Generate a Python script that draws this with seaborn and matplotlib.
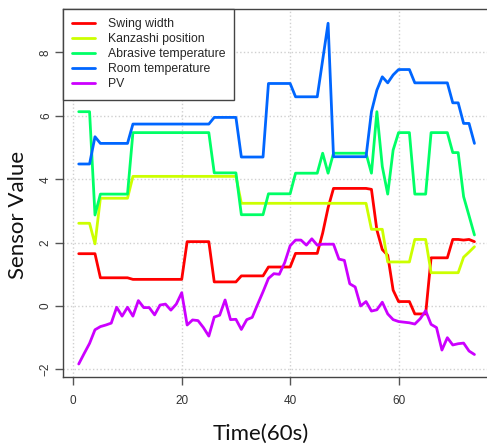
import numpy as np
import pandas as pd
import matplotlib
matplotlib.use("Agg")
from matplotlib import pyplot as plt
import seaborn as sns

# time steps (one every 60 s)
time = list(range(1, 75))

swing_width = [
    1.65, 1.65, 1.65, 1.65, 0.89, 0.89, 0.89, 0.89, 0.89, 0.89,
    0.84, 0.84, 0.84, 0.84, 0.84, 0.84, 0.84, 0.84, 0.84, 0.84,
    2.03, 2.03, 2.03, 2.03, 2.03, 0.76, 0.76, 0.76, 0.76, 0.76,
    0.95, 0.95, 0.95, 0.95, 0.95, 1.23, 1.23, 1.23, 1.23, 1.23,
    1.66, 1.66, 1.66, 1.66, 1.66, 2.30, 3.10, 3.71, 3.71, 3.71,
    3.71, 3.71, 3.71, 3.71, 3.68, 2.40, 1.78, 1.60, 0.50, 0.14,
    0.14, 0.14, -0.25, -0.25, -0.25, 1.52, 1.52, 1.52, 1.52, 2.10,
    2.10, 2.08, 2.10, 2.03]

kanzashi = [
    2.61, 2.61, 2.61, 1.96, 3.40, 3.40, 3.40, 3.40, 3.40, 3.40,
    4.09, 4.09, 4.09, 4.09, 4.09, 4.09, 4.09, 4.09, 4.09, 4.09,
    4.09, 4.09, 4.09, 4.09, 4.09, 4.09, 4.09, 4.09, 4.09, 4.09,
    3.24, 3.24, 3.24, 3.24, 3.24, 3.24, 3.24, 3.24, 3.24, 3.24,
    3.24, 3.24, 3.24, 3.24, 3.24, 3.24, 3.24, 3.24, 3.24, 3.24,
    3.24, 3.24, 3.24, 3.24, 2.42, 2.42, 2.42, 1.39, 1.39, 1.39,
    1.39, 1.39, 2.10, 2.10, 2.10, 1.05, 1.05, 1.05, 1.05, 1.05,
    1.05, 1.54, 1.70, 1.87]

abrasive_temp = [
    6.13, 6.13, 6.13, 2.87, 3.53, 3.53, 3.53, 3.53, 3.53, 3.53,
    5.47, 5.47, 5.47, 5.47, 5.47, 5.47, 5.47, 5.47, 5.47, 5.47,
    5.47, 5.47, 5.47, 5.47, 5.47, 4.20, 4.20, 4.20, 4.20, 4.20,
    2.88, 2.88, 2.88, 2.88, 2.88, 3.54, 3.54, 3.54, 3.54, 3.54,
    4.19, 4.19, 4.19, 4.19, 4.19, 4.82, 4.19, 4.82, 4.82, 4.82,
    4.82, 4.82, 4.82, 4.82, 4.19, 6.13, 4.40, 3.53, 4.92, 5.47,
    5.47, 5.47, 3.53, 3.53, 3.53, 5.47, 5.47, 5.47, 5.47, 4.84,
    4.84, 3.45, 2.85, 2.24]

room_temp = [
    4.48, 4.48, 4.48, 5.34, 5.13, 5.13, 5.13, 5.13, 5.13, 5.13,
    5.74, 5.74, 5.74, 5.74, 5.74, 5.74, 5.74, 5.74, 5.74, 5.74,
    5.74, 5.74, 5.74, 5.74, 5.74, 5.95, 5.95, 5.95, 5.95, 5.95,
    4.70, 4.70, 4.70, 4.70, 4.70, 7.02, 7.02, 7.02, 7.02, 7.02,
    6.60, 6.60, 6.60, 6.60, 6.60, 7.76, 8.92, 4.71, 4.71, 4.71,
    4.71, 4.71, 4.71, 4.71, 6.13, 6.81, 7.23, 7.04, 7.29, 7.46,
    7.46, 7.46, 7.04, 7.04, 7.04, 7.04, 7.04, 7.04, 7.04, 6.41,
    6.41, 5.76, 5.76, 5.13]

pv = [
    -1.83, -1.50, -1.18, -0.75, -0.65, -0.60, -0.54, -0.04, -0.32, -0.04,
    -0.32, 0.17, -0.05, -0.05, -0.28, 0.03, 0.06, -0.13, 0.06, 0.42,
    -0.60, -0.44, -0.46, -0.68, -0.95, -0.35, -0.29, 0.19, -0.43, -0.42,
    -0.74, -0.43, -0.36, 0.05, 0.45, 0.87, 1.02, 1.00, 1.37, 1.90,
    2.08, 2.08, 1.92, 2.12, 1.92, 1.95, 1.95, 1.95, 1.48, 1.44,
    0.70, 0.60, 0.00, 0.14, -0.16, -0.12, 0.12, -0.25, -0.43, -0.49,
    -0.51, -0.53, -0.57, -0.40, -0.15, -0.58, -0.68, -1.39, -1.00, -1.23,
    -1.19, -1.17, -1.42, -1.53]

names = ["Swing width", "Kanzashi position", "Abrasive temperature",
         "Room temperature", "PV"]
colors = ["#FF0000", "#CCFF00", "#00FF66", "#0066FF", "#CC00FF"]
x_ticks = [0, 20, 40, 60]
y_ticks = [-2, 0, 2, 4, 6, 8]

series = [swing_width, kanzashi, abrasive_temp, room_temp, pv]
df = pd.concat([pd.DataFrame({"time": time, "value": s, "series": n})
                for n, s in zip(names, series)], ignore_index=True)

sns.set_style("white")
plt.rcParams["font.family"] = ["Liberation Sans", "DejaVu Sans"]

fig = plt.figure(figsize=(4.87, 4.46), dpi=100)
ax = fig.add_axes([63/487, 69/446, 425/487, 368/446])

sns.lineplot(data=df, x="time", y="value", hue="series", hue_order=names,
             palette=colors, linewidth=2, estimator=None, sort=False, ax=ax)

ax.set_xlim(-1.9, 76.5)
ax.set_ylim(-2.24, 9.37)
ax.set_xticks(x_ticks)
ax.set_yticks(y_ticks)
ax.grid(True, linestyle=":", color="#D0D0D0", linewidth=1)
ax.set_axisbelow(True)
for sp in ax.spines.values():
    sp.set_color("#444444")
    sp.set_linewidth(1)
ax.tick_params(axis="both", which="major", direction="out", length=6,
               width=1, color="#555555", labelsize=8.5, labelcolor="#333333",
               bottom=True, left=True)
ax.tick_params(axis="x", pad=7)
ax.tick_params(axis="y", pad=2)
for lab in ax.get_yticklabels():
    lab.set_rotation(90)
    lab.set_va("center")

ax.set_xlabel("Time(60s)", fontsize=16, family=["Lato", "DejaVu Sans"], color="#111111")
ax.xaxis.set_label_coords(0.466, -0.155)
ax.xaxis.label.set_va("center")
ax.set_ylabel("Sensor Value", fontsize=16, family=["Lato", "DejaVu Sans"], color="#111111")
ax.yaxis.set_label_coords(-0.106, 0.44)
ax.yaxis.label.set_va("center")

leg = ax.legend(loc="upper left", bbox_to_anchor=(0, 1), borderaxespad=0,
                fontsize=8.8, frameon=True, fancybox=False, framealpha=1,
                edgecolor="#444444", handlelength=1.9, handletextpad=1.0,
                labelspacing=0.25, borderpad=0.75, title=None)
leg.get_frame().set_linewidth(1)
for h in leg.get_lines():
    h.set_linewidth(2)

fig.savefig("out.png", dpi=100)
